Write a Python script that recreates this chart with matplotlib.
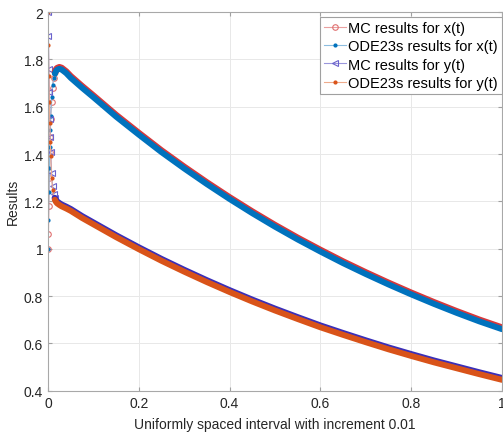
import matplotlib
matplotlib.use('Agg')
import matplotlib.pyplot as plt

# Time points (fine near the start, where the transient is)
t = [0, 0.001, 0.002, 0.003, 0.004, 0.005, 0.006, 0.008, 0.010, 0.0125,
     0.015, 0.0175, 0.02, 0.025, 0.03, 0.04, 0.05, 0.075, 0.1, 0.15,
     0.2, 0.25, 0.3, 0.35, 0.4, 0.45, 0.5, 0.55, 0.6, 0.65,
     0.7, 0.75, 0.8, 0.85, 0.9, 0.95, 1.0]

# ODE23s solutions
ode_x = [1.00, 1.12, 1.24, 1.34, 1.43, 1.50, 1.56, 1.64, 1.69, 1.72,
         1.74, 1.75, 1.756, 1.76, 1.757, 1.742, 1.722, 1.68, 1.64, 1.558,
         1.482, 1.408, 1.339, 1.273, 1.21, 1.15, 1.093, 1.039, 0.988, 0.939,
         0.893, 0.849, 0.807, 0.767, 0.729, 0.693, 0.66]
ode_y = [2.00, 1.86, 1.73, 1.62, 1.53, 1.45, 1.39, 1.30, 1.25, 1.22,
         1.207, 1.198, 1.192, 1.185, 1.179, 1.17, 1.16, 1.13, 1.103, 1.049,
         0.998, 0.949, 0.903, 0.859, 0.817, 0.777, 0.739, 0.703, 0.668, 0.636,
         0.605, 0.575, 0.547, 0.52, 0.495, 0.47, 0.446]

# Monte Carlo results
mc_x = [1.00, 1.06, 1.18, 1.30, 1.41, 1.47, 1.55, 1.62, 1.68, 1.72,
        1.747, 1.757, 1.763, 1.767, 1.764, 1.749, 1.729, 1.687, 1.647, 1.565,
        1.489, 1.415, 1.346, 1.28, 1.217, 1.157, 1.1, 1.046, 0.995, 0.946,
        0.9, 0.856, 0.814, 0.774, 0.736, 0.7, 0.667]
mc_y = [2.00, 1.90, 1.76, 1.66, 1.55, 1.47, 1.41, 1.32, 1.265, 1.23,
        1.214, 1.205, 1.199, 1.192, 1.186, 1.177, 1.167, 1.137, 1.11, 1.056,
        1.005, 0.956, 0.91, 0.866, 0.824, 0.784, 0.746, 0.71, 0.675, 0.643,
        0.612, 0.582, 0.554, 0.527, 0.502, 0.477, 0.453]

labels = ['MC results for x(t)', 'ODE23s results for x(t)',
          'MC results for y(t)', 'ODE23s results for y(t)']

plt.rcParams['font.family'] = ['Liberation Sans', 'DejaVu Sans']

fig = plt.figure(figsize=(5.03, 4.35), dpi=100)
ax = fig.add_axes([0.0954, 0.0995, 0.9026, 0.8706])

red = '#d9383a'
blue = '#0072bd'
purple = '#3a2fb8'
orange = '#d95319'

# Transient part: thin lines with single markers (legend entries)
s = 10
ax.plot(t[:s + 1], mc_x[:s + 1], color='#eaa0a0', lw=0.8, marker='o', ms=4,
        mfc='none', mec='#e07070', mew=0.8, label=labels[0])
ax.plot(t[:s + 1], ode_x[:s + 1], color='#8cbde0', lw=0.8, marker='.', ms=4,
        mfc=blue, mec=blue, label=labels[1])
ax.plot(t[:s + 1], mc_y[:s + 1], color='#9a96dc', lw=0.8, marker='<', ms=4,
        mfc='none', mec='#6a62cc', mew=0.8, label=labels[2])
ax.plot(t[:s + 1], ode_y[:s + 1], color='#eeab8c', lw=0.8, marker='.', ms=4,
        mfc=orange, mec=orange, label=labels[3])

# Smooth part: dense markers merge into thick bands
ax.plot(t[s:], mc_x[s:], color=red, lw=4.6, solid_capstyle='round',
        solid_joinstyle='round')
ax.plot(t[s:], ode_x[s:], color=blue, lw=4.3, solid_capstyle='round',
        solid_joinstyle='round')
ax.plot(t[s:], mc_y[s:], color=purple, lw=4.6, solid_capstyle='round',
        solid_joinstyle='round')
ax.plot(t[s:], ode_y[s:], color=orange, lw=4.3, solid_capstyle='round',
        solid_joinstyle='round')

ax.set_xlim(0, 1)
ax.set_ylim(0.4, 2)
ax.set_xticks([0, 0.2, 0.4, 0.6, 0.8, 1])
ax.set_xticklabels(['0', '0.2', '0.4', '0.6', '0.8', '1'])
ax.set_yticks([0.4, 0.6, 0.8, 1, 1.2, 1.4, 1.6, 1.8, 2])
ax.set_yticklabels(['0.4', '0.6', '0.8', '1', '1.2', '1.4', '1.6', '1.8', '2'])
ax.grid(True, color='#e8e8e8', lw=0.7)
ax.set_axisbelow(True)
ax.tick_params(direction='in', length=3, color='#a0a0a0', labelsize=10,
               labelcolor='#262626', top=True, right=True)
for sp in ax.spines.values():
    sp.set_color('#a8a8a8')
    sp.set_linewidth(0.8)

ax.set_xlabel('Uniformly spaced interval with increment 0.01', fontsize=10,
              color='#262626', labelpad=5)
ax.set_ylabel('Results', fontsize=10, color='#262626', labelpad=3)

leg = ax.legend(loc='upper right', bbox_to_anchor=(502 / 503, 1 - 18 / 435),
                bbox_transform=fig.transFigure, borderaxespad=0, fontsize=10.5,
                fancybox=False, framealpha=1, edgecolor='#a0a0a0',
                handlelength=1.5, handletextpad=0.15, labelspacing=0.28,
                borderpad=0.3)
leg.get_frame().set_linewidth(0.8)

fig.savefig('out.png', dpi=100)
